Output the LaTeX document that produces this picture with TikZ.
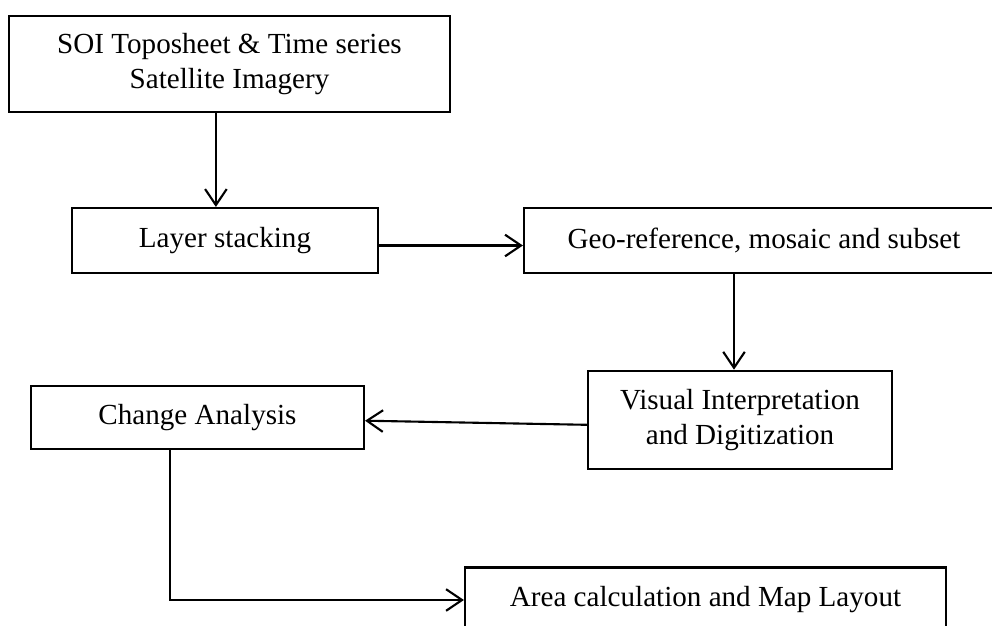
\documentclass[tikz,border=0pt]{standalone}
\usepackage{fontspec}
\setmainfont{Liberation Serif}
\usepackage{tikz}
\usetikzlibrary{shapes,positioning,calc}
\usetikzlibrary{arrows.meta}
\tikzstyle{processo} = [rectangle, draw=black, line width=1.5pt, text centered, align=center,
inner sep=0pt, font=\fontsize{20.7}{25}\selectfont]
\tikzstyle{arrow} = [line width=1.5pt,-{Straight Barb[length=4mm,width=5.4mm,line width=1.5pt]}]

\begin{document}
\begin{tikzpicture}[x=0.025cm, y=-0.025cm]
				\useasboundingbox (0,0) rectangle (992,625);
				\clip (0,0) rectangle (992,625);
				\node (soi) at (229.5,64) [processo, minimum width=441*0.025cm, minimum height=96*0.025cm] {SOI Toposheet \& Time series\\Satellite Imagery};
				\node (layer) at (225,240.5) [processo, minimum width=306.5*0.025cm, minimum height=65*0.025cm] {Layer stacking};
				\node (geo) at (784,240.5) [processo, minimum width=520*0.025cm, minimum height=65*0.025cm] {Geo-reference, mosaic and subset\hspace{1cm}};
				\node (visual) at (740,420) [processo, minimum width=304*0.025cm, minimum height=98.5*0.025cm] {Visual Interpretation\\and Digitization};
				\node (change) at (197.5,417.5) [processo, minimum width=333*0.025cm, minimum height=63*0.025cm] {Change Analysis};
				\node (area) at (705.5,600) [processo, minimum width=481*0.025cm, minimum height=65*0.025cm] {Area calculation and Map Layout};
				\draw[arrow] ([xshift=-3.4mm]soi.south) -- ([xshift=-3.4mm]soi.south |- layer.north);
				\draw[arrow] ([yshift=-1.25mm]layer.east) -- ([yshift=-1.25mm]geo.west);
				\draw[arrow] ([xshift=-1.5mm]visual.north |- geo.south) -- ([xshift=-1.5mm]visual.north);
				\draw[arrow] ([yshift=-1.2mm]visual.west) -- ([yshift=-0.8mm]change.east);
				\draw[arrow] ([xshift=-6.9mm]change.south) |- (area.west);
				\end{tikzpicture}
\end{document}
